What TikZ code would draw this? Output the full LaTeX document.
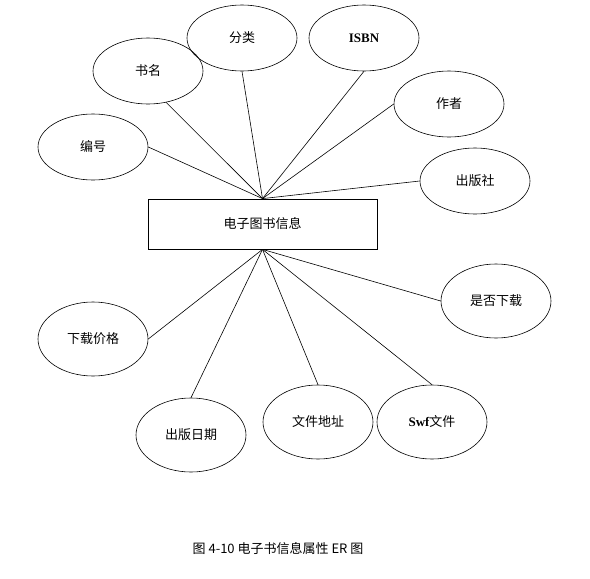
\documentclass[tikz,border=0pt]{standalone}
\usepackage{fontspec}
\setmainfont{Liberation Serif}
\newfontfamily\cjkfont{Noto Sans CJK SC}
\usetikzlibrary{shapes.geometric}
\tikzset{ERChart/.style={
    x = 1pt, y = -1pt,
    font = \cjkfont\fontsize{13}{15}\selectfont,
    entity/.style = {draw, line width=0.8pt, minimum width=229pt, minimum height=50pt, inner sep=0pt},
    attribute/.style = {draw, ellipse, line width=0.6pt, minimum width=110pt, minimum height=66pt, inner sep=0pt},
    lowattr/.style = {attribute, minimum height=74pt}
}}

\begin{document}
\begin{tikzpicture}[ERChart]
    \useasboundingbox (0,0) rectangle (590,579);

    \node [entity] (book) at (262.5,224) {电子图书信息};

    \node [attribute] (number) at (93,147) {编号};
    \node [attribute] (title) at (148,71) {书名};
    \node [attribute] (category) at (242,38) {分类};
    \node [attribute] (isbn) at (364,38) {\rmfamily\bfseries ISBN};
    \node [attribute] (author) at (449,104) {作者};
    \node [attribute] (publisher) at (475,181) {出版社};

    \node [lowattr] (price) at (93,339) {下载价格};
    \node [lowattr] (pubdate) at (191,435) {出版日期};
    \node [lowattr] (address) at (318,422) {文件地址};
    \node [lowattr] (swf) at (432,422) {{\rmfamily\bfseries Swf}文件};
    \node [lowattr] (download) at (496,301) {是否下载};

    \node (caption) at (278,549) {图 4-10 电子书信息属性 ER 图};

    \draw [line width=0.6pt]
    (book.north) edge (number.east)
    (book.north) edge (title.-60)
    (book.north) edge (category.south)
    (book.north) edge (isbn.south)
    (book.north) edge (author.west)
    (book.north) edge (publisher.west)
    (book.south) edge (price.east)
    (book.south) edge (pubdate.north)
    (book.south) edge (address.north)
    (book.south) edge (swf.north)
    (book.south) edge (download.west);
\end{tikzpicture}
\end{document}
